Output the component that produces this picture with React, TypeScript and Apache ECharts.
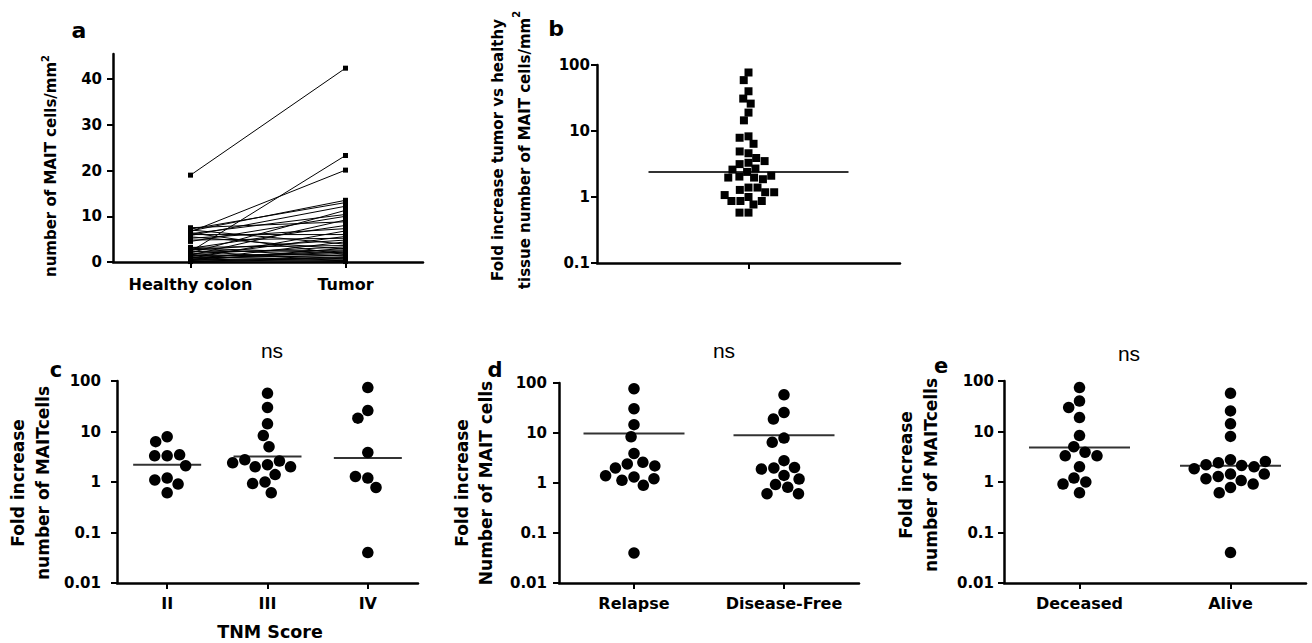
import React, { useEffect, useRef } from 'react';
import * as echarts from 'echarts';

// ---------- data ----------
const aCategories = ['Healthy colon', 'Tumor'];
const aHealthy = [19, 2.3, 6.6, 6.8, 7.2, 5.8, 2.0, 6.2, 4.5, 1.5, 7.5, 3.0, 5.2, 0.8, 6.0, 1.2, 4.8, 2.6, 0.5, 7.0, 3.2, 1.8, 0.3, 5.5, 2.2, 1.0, 0.6, 3.0, 1.4, 6.4, 0.9, 2.8, 0.4, 1.6, 0.2, 1.1, 0.7, 0.1, 2.4, 0.5];
const aTumor = [42.4, 23.3, 20.1, 13.5, 13.0, 12.2, 11.3, 10.4, 10.0, 9.2, 8.8, 8.0, 7.3, 6.8, 6.0, 5.6, 5.2, 4.8, 4.4, 3.9, 3.6, 3.3, 3.0, 2.8, 2.6, 2.4, 2.2, 2.0, 1.8, 1.6, 1.5, 1.3, 1.1, 1.0, 0.8, 0.6, 0.4, 0.3, 0.2, 0.1];
const aYTicks = [0, 10, 20, 30, 40];

const bCategories = [''];
const bValues = [77, 59, 40, 31, 26, 19, 14.5, 8.3, 7.9, 6.4, 4.6, 4.9, 3.9, 3.3, 3.15, 3.5, 2.7, 2.4, 2.6, 2.04, 1.97, 1.86, 1.97, 2.1, 1.39, 1.28, 1.39, 1.18, 1.0, 0.87, 0.77, 0.87, 0.87, 1.07, 1.18, 0.58, 0.58];
const bMedian = [2.4];

const cCategories = ['II', 'III', 'IV'];
const cII = [7.9, 6.3, 3.3, 3.3, 3.46, 2.1, 1.2, 1.1, 0.91, 0.61];
const cIII = [57, 30, 14.2, 8.3, 5.0, 2.2, 2.0, 2.6, 2.75, 2.0, 2.4, 1.4, 1.0, 0.93, 0.61];
const cIV = [74, 26, 18.4, 3.85, 1.2, 1.29, 0.78, 0.04];
const cMedians = [2.2, 3.2, 3.0];

const dCategories = ['Relapse', 'Disease-Free'];
const dRelapse = [77, 30.6, 14.7, 8.4, 3.9, 2.4, 2.6, 2.0, 2.2, 1.32, 1.13, 0.9, 1.22, 1.4, 0.04];
const dDiseaseFree = [58, 25.8, 19, 7.9, 6.5, 2.8, 2.0, 2.05, 1.9, 1.42, 1.2, 0.93, 0.82, 0.61, 0.61];
const dMedians = [9.8, 9.0];

const eCategories = ['Deceased', 'Alive'];
const eDeceased = [74, 40, 30, 18.9, 8.3, 5.0, 3.9, 3.3, 3.3, 2.0, 1.2, 1.0, 0.91, 0.61];
const eAlive = [57, 25.6, 14.2, 8.0, 2.76, 2.4, 2.13, 2.0, 2.2, 2.55, 1.83, 1.44, 1.44, 1.29, 1.07, 1.16, 0.91, 0.78, 0.61, 0.04];
const eMedians = [4.8, 2.1];

// ---------- styles ----------
const FONT = 'DejaVu Sans';
const axisLine = { show: true, lineStyle: { color: '#000', width: 2.5 } };
const tick = { show: true, length: 6, alignWithLabel: true, lineStyle: { color: '#000', width: 2 } };
const tickLabel = (margin: number) => ({ color: '#000', fontFamily: FONT, fontWeight: 'bold', fontSize: 15, margin });
const catLabel = (margin: number) => ({ color: '#000', fontFamily: FONT, fontWeight: 'bold', fontSize: 16, margin, interval: 0 });
const logFmt = (v: number) => String(parseFloat(Number(v).toPrecision(3)));

const grids = [
  { left: 113, top: 54, width: 310, height: 208 },
  { left: 597, top: 65, width: 303, height: 198 },
  { left: 117, top: 381, width: 301, height: 202 },
  { left: 559, top: 383, width: 300, height: 200 },
  { left: 1004, top: 381, width: 302, height: 202 },
].map((g) => ({ ...g, containLabel: false, outerBoundsMode: 'none' }));

const catAxis = (gridIndex: number, data: string[], margin: number, jitter?: number) => ({
  type: 'category',
  gridIndex,
  data,
  boundaryGap: true,
  axisLine,
  axisTick: { ...tick, interval: 0 },
  axisLabel: catLabel(margin),
  splitLine: { show: false },
  ...(jitter ? { jitter, jitterOverlap: false, jitterMargin: 1 } : {}),
});
const hiddenCat = (gridIndex: number, data: string[]) => ({
  type: 'category', gridIndex, data, boundaryGap: true, show: false,
});
const logAxis = (gridIndex: number, min: number, margin: number) => ({
  type: 'log', logBase: 10, gridIndex, min, max: 100,
  axisLine, axisTick: tick,
  axisLabel: { ...tickLabel(margin), formatter: logFmt },
  splitLine: { show: false }, minorTick: { show: false },
});

const pts = (groups: number[][]) => groups.flatMap((g, i) => g.map((v) => [i, v]));

const xAxis = [
  catAxis(0, aCategories, 14),                // 0
  catAxis(1, bCategories, 12, 200),           // 1
  hiddenCat(1, bCategories),                  // 2
  catAxis(2, cCategories, 12, 90),            // 3
  hiddenCat(2, cCategories),                  // 4
  catAxis(3, dCategories, 12, 130),           // 5
  hiddenCat(3, dCategories),                  // 6
  catAxis(4, eCategories, 12, 130),           // 7
  hiddenCat(4, eCategories),                  // 8
];

const yAxis = [
  {
    type: 'value', gridIndex: 0, min: 0, max: 45.5,
    axisLine, axisTick: { ...tick, customValues: aYTicks },
    axisLabel: { ...tickLabel(11), customValues: aYTicks },
    splitLine: { show: false },
  },
  logAxis(1, 0.1, 7),
  logAxis(2, 0.01, 16),
  logAxis(3, 0.01, 12),
  logAxis(4, 0.01, 10),
];

const medianSeries = (xi: number, yi: number, meds: number[], w: number) => ({
  type: 'scatter', xAxisIndex: xi, yAxisIndex: yi, z: 1,
  symbol: 'rect', symbolSize: [w, 2],
  itemStyle: { color: '#000' },
  data: meds.map((m, i) => [i, m]),
});
const dotSeries = (xi: number, yi: number, data: number[][], symbol: string, size: number) => ({
  type: 'scatter', xAxisIndex: xi, yAxisIndex: yi, z: 3,
  symbol, symbolSize: size,
  itemStyle: { color: '#000', opacity: 1 },
  data,
});

const pairSeries = aHealthy.map((h, i) => ({
  type: 'line', xAxisIndex: 0, yAxisIndex: 0,
  data: [h, aTumor[i]],
  symbol: 'rect', symbolSize: 5, showSymbol: true,
  lineStyle: { color: '#000', width: 1 },
  itemStyle: { color: '#000' },
}));

const txt = (text: string, x: number, y: number, size: number, weight: string, family: string, extra: any = {}) => ({
  type: 'text', x, y, ...(extra.rotation !== undefined ? { rotation: extra.rotation } : {}),
  style: {
    text, fill: '#000', fontSize: size, fontWeight: weight, fontFamily: family,
    align: 'center', verticalAlign: 'middle', textAlign: 'center', textVerticalAlign: 'middle',
    ...(extra.style || {}),
  },
});
const R = Math.PI / 2;
const sup = { sup: { fontSize: 10, fontWeight: 'bold', fontFamily: FONT, verticalAlign: 'top', lineHeight: 10 } };

const graphic = [
  txt('a', 79, 30, 22, 'bold', FONT),
  txt('b', 556, 28, 22, 'bold', FONT),
  txt('c', 56, 370, 21, 'bold', FONT),
  txt('d', 495, 370, 21, 'bold', FONT),
  txt('e', 941, 366, 21, 'bold', FONT),
  txt('ns', 272, 350, 21, 'normal', 'Liberation Sans'),
  txt('ns', 724, 350, 21, 'normal', 'Liberation Sans'),
  txt('ns', 1129, 353, 21, 'normal', 'Liberation Sans'),
  txt('TNM Score', 270, 632, 17.5, 'bold', FONT),
  txt('number of MAIT cells/mm{sup|2}', 51, 166, 15, 'bold', FONT, { rotation: R, style: { lineHeight: 22, rich: sup } }),
  txt('Fold increase tumor vs healthy\ntissue number of MAIT cells/mm{sup|2}', 511, 150, 15, 'bold', FONT, { rotation: R, style: { lineHeight: 27, rich: sup } }),
  txt('Fold increase\nnumber of MAITcells', 30.5, 483, 17, 'bold', FONT, { rotation: R, style: { lineHeight: 25 } }),
  txt('Fold increase\nNumber of MAIT cells', 473.5, 483, 17, 'bold', FONT, { rotation: R, style: { lineHeight: 24 } }),
  txt('Fold increase\nnumber of MAITcells', 918.5, 475, 17, 'bold', FONT, { rotation: R, style: { lineHeight: 25 } }),
];

const option: any = {
  animation: false,
  backgroundColor: '#fff',
  grid: grids,
  xAxis,
  yAxis,
  graphic,
  series: [
    ...pairSeries,
    medianSeries(2, 1, bMedian, 200),
    dotSeries(1, 1, pts([bValues]), 'rect', 8),
    medianSeries(4, 2, cMedians, 68),
    dotSeries(3, 2, pts([cII, cIII, cIV]), 'circle', 11.5),
    medianSeries(6, 3, dMedians, 101),
    dotSeries(5, 3, pts([dRelapse, dDiseaseFree]), 'circle', 11.5),
    medianSeries(8, 4, eMedians, 101),
    dotSeries(7, 4, pts([eDeceased, eAlive]), 'circle', 11.5),
  ],
};

export default function App() {
  const ref = useRef<HTMLDivElement>(null);
  useEffect(() => {
    document.body.style.margin = '0';
    const chart = echarts.init(ref.current!, null, { renderer: 'svg' });
    chart.setOption(option);
    return () => chart.dispose();
  }, []);
  return <div ref={ref} style={{ width: 1312, height: 643, background: '#fff' }} />;
}
